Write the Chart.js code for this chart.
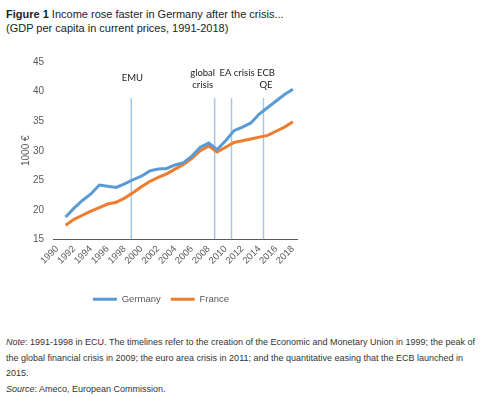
<!DOCTYPE html>
<html>
<head>
<meta charset="utf-8">
<title>Figure 1</title>
<script src="https://cdn.jsdelivr.net/npm/chart.js@4.4.1/dist/chart.umd.min.js"></script>
<style>
  html, body { margin: 0; padding: 0; background: #fff; }
  body {
    width: 500px; height: 397px; position: relative; overflow: hidden;
    font-family: "Liberation Sans", Arial, sans-serif; color: #222;
  }
  #title { position: absolute; left: 6px; top: 8px; font-size: 11px; line-height: 13.5px; white-space: nowrap; }
  #chartBox { position: absolute; left: 0; top: 0; width: 305px; height: 320px; }
  #note { position: absolute; left: 6px; top: 335px; font-size: 9px; line-height: 15.5px; color: #333; white-space: nowrap; }
</style>
</head>
<body>
<div id="title"><b>Figure 1</b> Income rose faster in Germany after the crisis...<br>(GDP per capita in current prices, 1991-2018)</div>
<div id="chartBox"><canvas id="gdpChart" width="305" height="320"></canvas></div>
<div id="note">
  <i>Note</i>: 1991-1998 in ECU. The timelines refer to the creation of the Economic and Monetary Union in 1999; the peak of<br>
  the global financial crisis in 2009; the euro area crisis in 2011; and the quantitative easing that the ECB launched in<br>
  2015.<br>
  <i>Source</i>: Ameco, European Commission.
</div>

<script>
// Years on the category axis (1990 has no value, it only opens the axis)
const years = ['1990', '1991', '1992', '1993', '1994', '1995', '1996', '1997', '1998', '1999',
               '2000', '2001', '2002', '2003', '2004', '2005', '2006', '2007', '2008', '2009',
               '2010', '2011', '2012', '2013', '2014', '2015', '2016', '2017', '2018'];

// GDP per capita, 1000 €
const germany = [null, 18.8, 20.3, 21.6, 22.7, 24.2, 24.0, 23.8, 24.4, 25.1,
                 25.7, 26.6, 26.9, 27.0, 27.6, 28.0, 29.1, 30.6, 31.3, 30.2,
                 31.7, 33.4, 34.0, 34.7, 36.2, 37.3, 38.4, 39.5, 40.4];
const france  = [null, 17.4, 18.4, 19.1, 19.8, 20.4, 21.0, 21.3, 22.0, 22.9,
                 23.9, 24.8, 25.5, 26.1, 26.9, 27.7, 28.7, 30.0, 30.8, 29.8,
                 30.6, 31.4, 31.7, 32.0, 32.3, 32.6, 33.3, 34.0, 34.9];

// y axis ticks
const yTicks = [15, 20, 25, 30, 35, 40, 45];

// Timelines (year position on the axis) and their captions
const timelineYears = [1998.8, 2008.7, 2010.7, 2014.5];
const timelineLabels = [['EMU'], ['global', 'crisis'], ['EA crisis'], ['ECB', 'QE']];
const timelineTop = 38.9;   // in 1000 €

// caption nudges in px, same order as the timelines
const captionShift = [1, -12, 5.5, 2.5];
const captionRow = [[16], [11, 23], [11], [11, 23]];

Chart.defaults.font.family = '"Liberation Sans", Arial, sans-serif';

// Draw the timelines behind the data lines, captions above them
const timelinePlugin = {
    id: 'timelines',
    beforeDatasetsDraw(chart) {
        const { ctx, scales: { x, y } } = chart;
        ctx.save();
        ctx.strokeStyle = 'rgba(91, 155, 213, 0.55)';
        ctx.lineWidth = 1.5;
        timelineYears.forEach(yr => {
            const px = x.getPixelForValue(yr - Number(years[0]));
            ctx.beginPath();
            ctx.moveTo(px, y.getPixelForValue(timelineTop));
            ctx.lineTo(px, y.getPixelForValue(yTicks[0]));
            ctx.stroke();
        });
        ctx.restore();
    },
    afterDraw(chart) {
        const { ctx, chartArea, scales: { x } } = chart;
        ctx.save();
        ctx.font = '9.5px Lato, "Open Sans", sans-serif';
        ctx.fillStyle = '#222';
        ctx.textAlign = 'center';
        ctx.textBaseline = 'middle';
        timelineLabels.forEach((lines, i) => {
            const px = x.getPixelForValue(timelineYears[i] - Number(years[0])) + captionShift[i];
            lines.forEach((txt, j) => {
                ctx.fillText(txt, px, chartArea.top + captionRow[i][j]);
            });
        });
        ctx.restore();
    }
};

const ctx = document.getElementById('gdpChart').getContext('2d');
const gdpChart = new Chart(ctx, {
    type: 'line',
    data: {
        labels: years,
        datasets: [
            {
                label: 'Germany',
                data: germany,
                borderColor: '#5B9BD5',
                backgroundColor: '#5B9BD5',
                borderWidth: 3,
                pointRadius: 0,
                tension: 0
            },
            {
                label: 'France',
                data: france,
                borderColor: '#ED7D31',
                backgroundColor: '#ED7D31',
                borderWidth: 3,
                pointRadius: 0,
                tension: 0
            }
        ]
    },
    options: {
        responsive: false,
        animation: false,
        devicePixelRatio: 1,
        events: [],
        layout: { padding: { left: 17, top: 62, right: 0, bottom: 6 } },
        plugins: {
            tooltip: { enabled: false },
            legend: {
                position: 'bottom',
                labels: {
                    usePointStyle: true,
                    pointStyle: 'line',
                    pointStyleWidth: 24,
                    color: '#595959',
                    font: { size: 9.5 },
                    padding: 10
                }
            }
        },
        scales: {
            x: {
                type: 'category',
                offset: true,
                grid: { display: false, drawTicks: false },
                border: { display: true, color: '#595959', width: 1 },
                ticks: {
                    autoSkip: false,
                    minRotation: 45,
                    maxRotation: 45,
                    padding: 4,
                    color: '#595959',
                    font: { size: 9.5 },
                    callback: function (value, index) {
                        return index % 2 === 0 ? this.getLabelForValue(value) : '';
                    }
                },
                afterFit: scale => { scale.height = 45; }
            },
            y: {
                min: yTicks[0],
                max: yTicks[yTicks.length - 1],
                grid: { display: false, drawTicks: false },
                border: { display: false },
                afterBuildTicks: scale => { scale.ticks = yTicks.map(v => ({ value: v })); },
                ticks: {
                    padding: 9,
                    color: '#595959',
                    font: { size: 10 }
                },
                title: {
                    display: true,
                    text: '1000 €',
                    color: '#595959',
                    font: { size: 10, family: '"Liberation Sans", Arial, sans-serif' },
                    padding: { top: 3, bottom: 0 }
                },
                afterFit: scale => { scale.width = 36; }
            }
        }
    },
    plugins: [timelinePlugin]
});
</script>
</body>
</html>
